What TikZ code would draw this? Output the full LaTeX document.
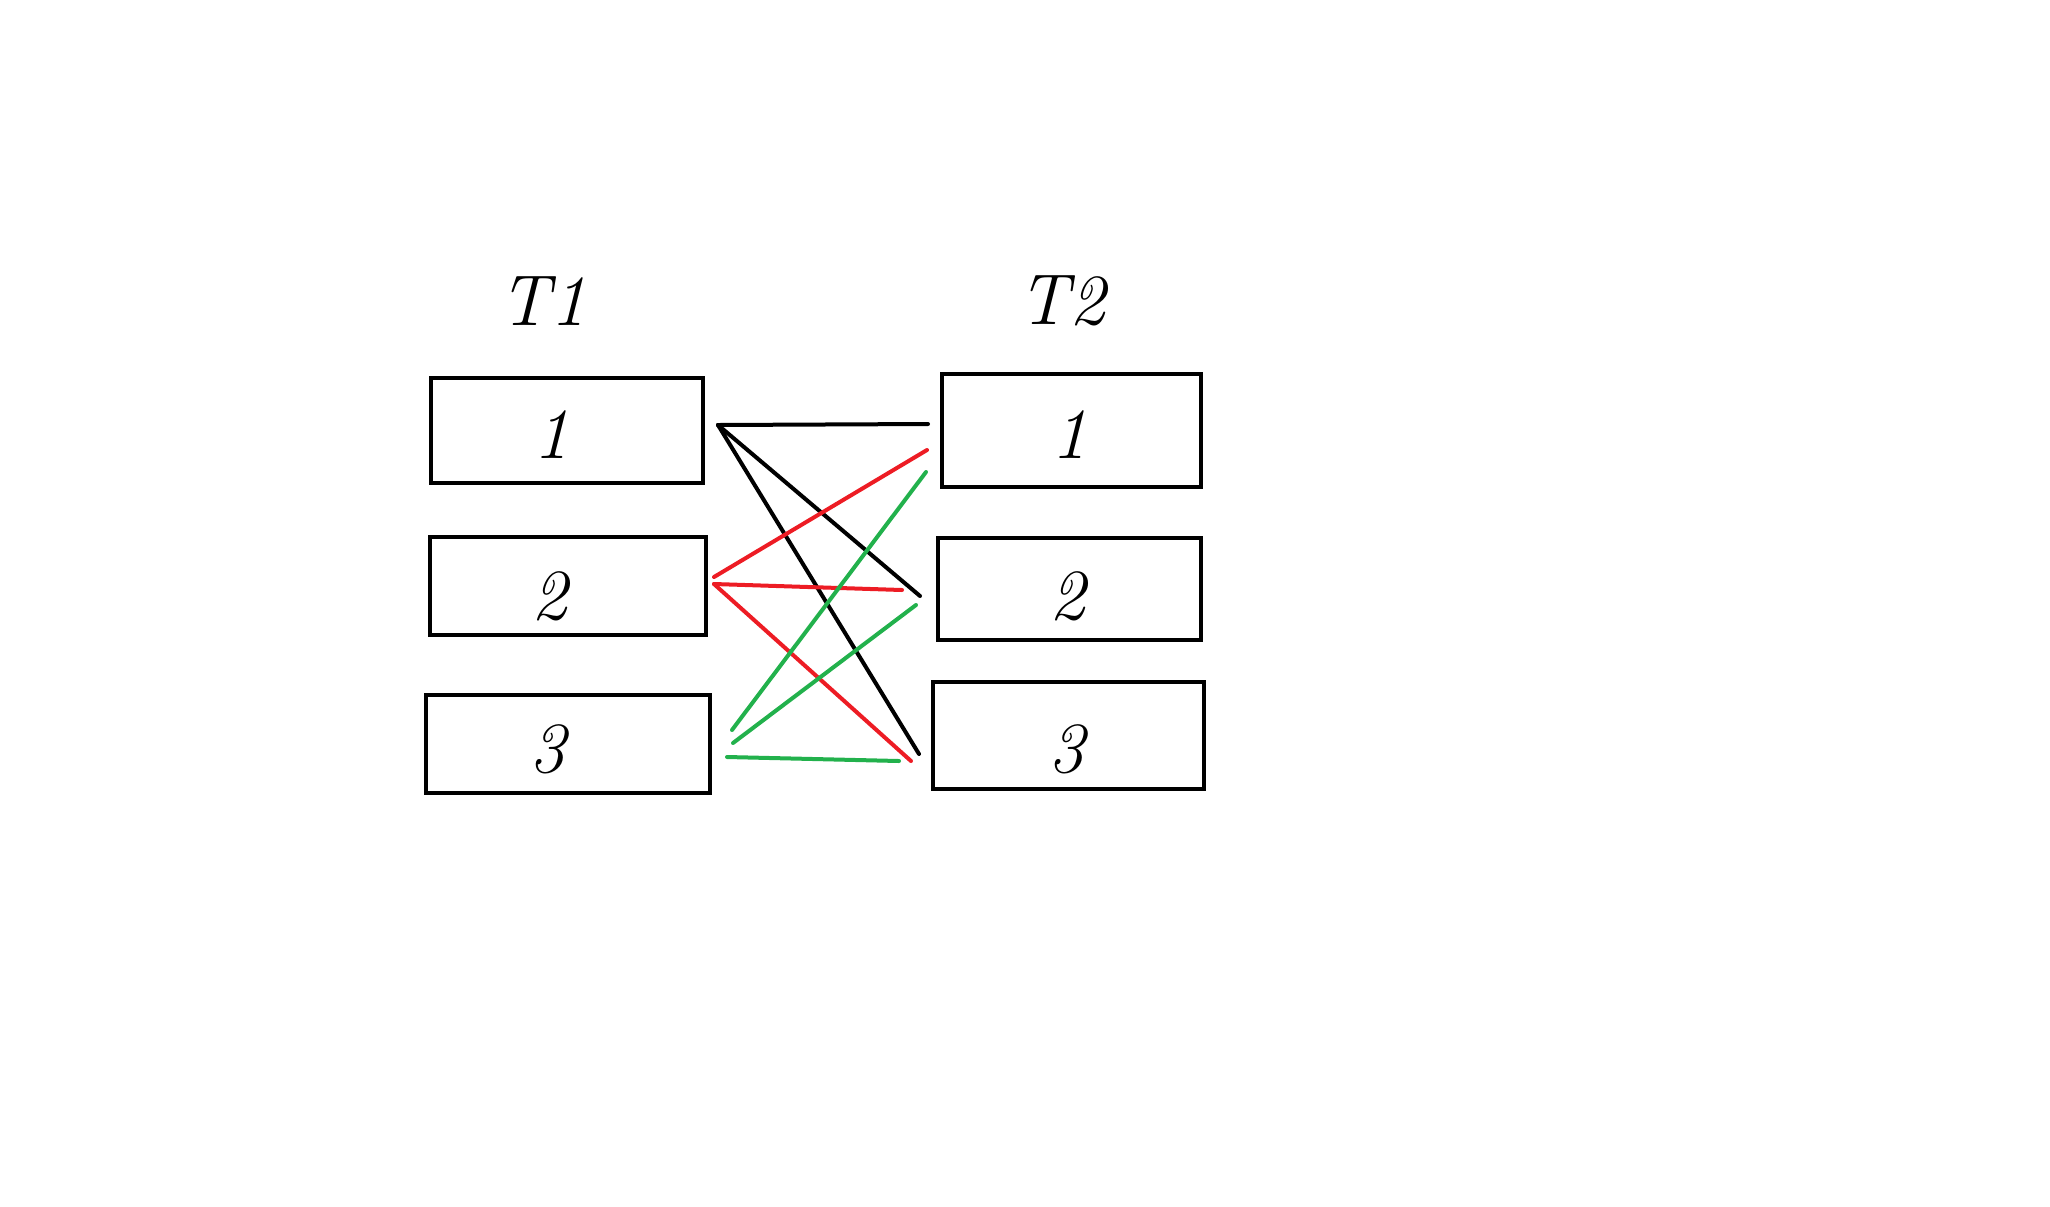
\documentclass[tikz,border=0pt]{standalone}
\usepackage{xcolor}
\definecolor{pRed}{HTML}{ED1C24}
\definecolor{pGreen}{HTML}{22B14C}
\begin{document}
\begin{tikzpicture}[x=0.5pt,y=-0.5pt,
  box/.style={draw=black,line width=2.2pt,inner sep=0pt,anchor=north west},
  lbl/.style={font=\fontsize{36}{40}\selectfont\itshape,inner sep=0pt},
  wire/.style={line width=2pt,line cap=round}]
\useasboundingbox (0,0) rectangle (2050,1206);
% T1 boxes
\node[box,minimum width=272pt*0.5,minimum height=105pt*0.5] (a1) at (429,376) {};
\node[box,minimum width=276pt*0.5,minimum height=98pt*0.5] (a2) at (428,535) {};
\node[box,minimum width=284pt*0.5,minimum height=98pt*0.5] (a3) at (424,693) {};
% T2 boxes
\node[box,minimum width=259pt*0.5,minimum height=113pt*0.5] (b1) at (940,372) {};
\node[box,minimum width=263pt*0.5,minimum height=102pt*0.5] (b2) at (936,536) {};
\node[box,minimum width=271pt*0.5,minimum height=107pt*0.5] (b3) at (931,680) {};
% labels
\node[lbl] (t1) at (543,301) {T1};
\node[lbl] (t2) at (1062,301) {T2};
\node[lbl] (n11) at (551,435) {1};
\node[lbl] (n12) at (549,596) {2};
\node[lbl] (n13) at (547,749) {3};
\node[lbl] (n21) at (1069,435) {1};
\node[lbl] (n22) at (1067,596) {2};
\node[lbl] (n23) at (1066,749) {3};
% wire end points
\coordinate (k0) at (718,425);
\coordinate (k1) at (928,424);
\coordinate (k2) at (920,596);
\coordinate (k3) at (919,754);
\coordinate (r0) at (714,577);
\coordinate (r1) at (927,450);
\coordinate (r0b) at (714,584);
\coordinate (r2) at (902,590);
\coordinate (r3) at (911,761);
\coordinate (g0) at (732,730);
\coordinate (g1) at (926,472);
\coordinate (g0b) at (733,743);
\coordinate (g2) at (916,605);
\coordinate (g0c) at (727,757);
\coordinate (g3) at (899,761);
% black
\draw[wire,black] (k0) -- (k1);
\draw[wire,black] (k0) -- (k2);
\draw[wire,black] (k0) -- (k3);
% red
\draw[wire,pRed] (r0) -- (r1);
\draw[wire,pRed] (r0b) -- (r2);
\draw[wire,pRed] (r0b) -- (r3);
% green
\draw[wire,pGreen] (g0) -- (g1);
\draw[wire,pGreen] (g0b) -- (g2);
\draw[wire,pGreen] (g0c) -- (g3);
\end{tikzpicture}
\end{document}
